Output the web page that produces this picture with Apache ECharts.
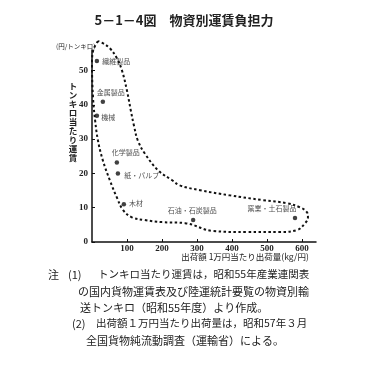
<!DOCTYPE html>
<html><head><meta charset="utf-8">
<script src="https://cdn.jsdelivr.net/npm/echarts@6/dist/echarts.min.js"></script>
<style>html,body{margin:0;padding:0;background:#fff}#c{width:368px;height:379px}</style>
</head><body><div id="c"></div>
<script>
// ---- data ----
const names = ['繊維製品','金属製品','機械','化学製品','紙・パルプ','木材','石油・石炭製品','窯業・土石製品'];
const shipKg = [14, 31, 14, 71, 74, 91, 289, 580];      // 出荷額1万円当たり出荷量 (kg/円)
const fare   = [52.8, 40.9, 36.8, 23.2, 20.0, 11.0, 6.4, 7.0]; // トンキロ当たり運賃 (円/トンキロ)
// dotted enclosure (data units)
const loopX = [17, 3, 0, 3, 9, 17, 31, 51, 71, 89, 114, 151, 200, 266, 346, 443, 537, 586, 609, 617, 614, 594, 557, 489, 394, 309, 251, 229, 189, 151, 131, 120, 111, 100, 86, 71, 51, 31, 17];
const loopY = [58.6, 55.7, 51.9, 42, 35.4, 29.6, 23.8, 18, 13, 9.3, 7.2, 6.4, 5.8, 5.5, 3.2, 2.9, 2.9, 3.5, 5.5, 7.2, 8.7, 10.1, 11.3, 12.2, 13.6, 15.1, 16.5, 18, 20.9, 25.8, 29.6, 33.9, 38.3, 44.1, 49.9, 53.6, 56.5, 58, 58.6];
const xTicks = [0, 100, 200, 300, 400, 500, 600];
const yTicks = [0, 10, 20, 30, 40, 50];

// label placement (style only)
const labelPlace = {
  '繊維製品': {position:'right', offset:[0,0]},
  '金属製品': {position:'top', offset:[8,-1]},
  '機械': {position:'right', offset:[-1,2]},
  '化学製品': {position:'top', offset:[9,-1]},
  '紙・パルプ': {position:'right', offset:[1,2]},
  '木材': {position:'right', offset:[0,-1]},
  '石油・石炭製品': {position:'top', offset:[-1,-1]},
  '窯業・土石製品': {position:'top', offset:[-23,-1]}
};

const pts = names.map((n,i)=>({name:n, value:[shipKg[i], fare[i]], label:Object.assign({show:true, formatter:'{b}'}, labelPlace[n])}));
const loop = loopX.map((x,i)=>[x, loopY[i]]);

const chart = echarts.init(document.getElementById('c'), null, {renderer:'canvas'});
const cjk = '"Noto Sans CJK JP", "Noto Sans", sans-serif';
const numFont = '"Liberation Serif", "DejaVu Serif", serif';
const vert = 'トンキロ当たり運賃'.split('').join('\n');
chart.setOption({
  backgroundColor:'#fff',
  animation:false,
  grid:{left:92, right:52, top:50, bottom:137},
  xAxis:{type:'value', min:0, max:640, interval:100,
    axisLine:{show:true, onZero:false, lineStyle:{color:'#111', width:1.5}},
    axisTick:{show:true, inside:true, length:3, lineStyle:{color:'#111'}},
    splitLine:{show:false},
    axisLabel:{color:'#222', fontFamily:numFont, fontSize:9, fontWeight:'bold', margin:2,
      showMinLabel:false, showMaxLabel:false,
      formatter:v=> xTicks.indexOf(v)>=0 ? String(v) : ''}
  },
  yAxis:{type:'value', min:0, max:56, interval:10,
    axisLine:{show:true, onZero:false, lineStyle:{color:'#111', width:1.5}},
    axisTick:{show:true, inside:true, length:3, lineStyle:{color:'#111'}},
    splitLine:{show:false},
    axisLabel:{color:'#222', fontFamily:numFont, fontSize:9, fontWeight:'bold', margin:4,
      showMaxLabel:false,
      formatter:v=> yTicks.indexOf(v)>=0 ? String(v) : ''}
  },
  series:[
    {type:'line', data:loop, symbol:'none', smooth:0.4, clip:false, silent:true,
      lineStyle:{color:'#111', width:2, type:[2.5,2.5]}, z:1},
    {type:'scatter', data:pts, symbol:'circle', symbolSize:4.5, clip:false,
      itemStyle:{color:'#111'},
      label:{fontFamily:cjk, fontSize:7, color:'#222', distance:3}, z:3}
  ],
  graphic:[
    {type:'text', left:'center', top:14, style:{text:'5－1－4図　物資別運賃負担力', font:'bold 13px '+cjk, fill:'#222'}},
    {type:'text', x:56, y:43, style:{text:'(円/トンキロ)', font:'6.5px '+cjk, fill:'#222'}},
    {type:'text', x:73, y:81, style:{text:vert, font:'bold 8.5px '+cjk, fill:'#222', align:'center', lineHeight:9}},
    {type:'text', x:245, y:253, style:{text:'出荷額 1万円当たり出荷量(kg/円)', font:'8.5px '+cjk, fill:'#222', align:'center'}},
    {type:'text', x:48, y:269, style:{text:'注', font:'11px '+cjk, fill:'#222'}},
    {type:'text', x:68, y:269, style:{text:'(1)', font:'11px '+cjk, fill:'#222'}},
    {type:'text', x:98, y:269, style:{text:'トンキロ当たり運賃は，昭和55年産業連関表', font:'10.5px '+cjk, fill:'#222'}},
    {type:'text', x:78, y:286, style:{text:'の国内貨物運賃表及び陸運統計要覧の物資別輸', font:'11px '+cjk, fill:'#222'}},
    {type:'text', x:80, y:302, style:{text:'送トンキロ（昭和55年度）より作成。', font:'11px '+cjk, fill:'#222'}},
    {type:'text', x:72, y:318, style:{text:'(2)', font:'11px '+cjk, fill:'#222'}},
    {type:'text', x:96, y:318, style:{text:'出荷額１万円当たり出荷量は，昭和57年３月', font:'10.5px '+cjk, fill:'#222'}},
    {type:'text', x:86, y:335, style:{text:'全国貨物純流動調査（運輸省）による。', font:'11px '+cjk, fill:'#222'}}
  ]
});
</script></body></html>
